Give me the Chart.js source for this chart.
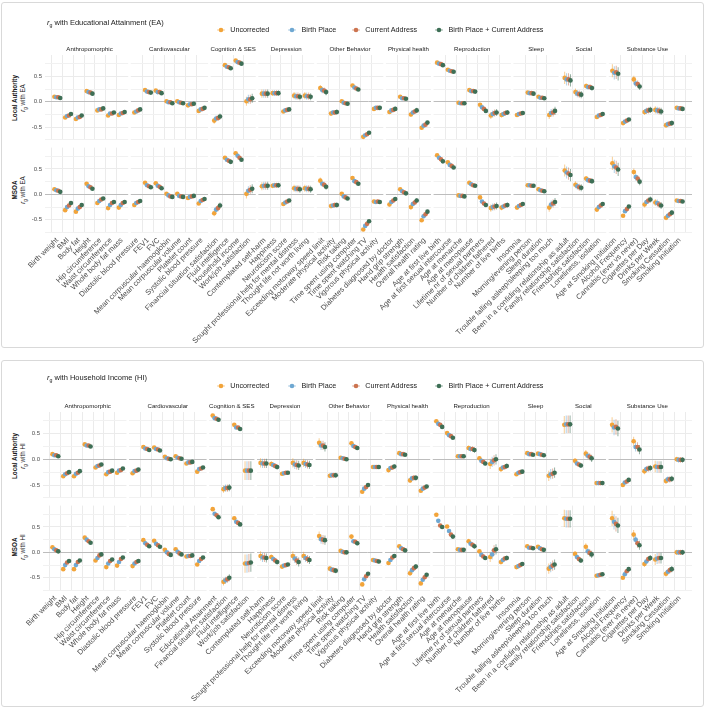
<!DOCTYPE html>
<html>
<head>
<meta charset="utf-8">
<script src="https://cdn.jsdelivr.net/npm/chart.js@4.4.1/dist/chart.umd.min.js"></script>
<style>
  html, body { margin: 0; padding: 0; background: #fff; }
  body { width: 706px; height: 710px; position: relative; overflow: hidden;
         font-family: "Liberation Sans", Arial, sans-serif; color: #1a1a1a; }
  .panel { position: absolute; left: 1px; width: 703px; border: 1px solid #d9d9d9;
           border-radius: 3px; box-sizing: border-box; }
  canvas { position: absolute; left: 0; }
  sub { font-size: 70%; vertical-align: -1.5px; line-height: 0; }
</style>
</head>
<body>
<div class="panel" style="top:2px;height:346px"></div>
<div class="panel" style="top:360px;height:347px"></div>
<script>
// ======================
// 데이터
// ======================
const facetNames = ["Anthropomorphic", "Cardiovascular", "Cognition & SES", "Depression", "Other Behavior",
  "Physical health", "Reproduction", "Sleep", "Social", "Substance Use"];
const facetSizes = [7, 7, 4, 5, 6, 4, 7, 4, 4, 7];

const seriesNames = ["Uncorrected", "Birth Place", "Current Address", "Birth Place + Current Address"];
const seriesColors = ["#F2A43A", "#6FA8D2", "#CC7450", "#3E6F56"];

const eaTraits = [
  "Birth weight", "BMI", "Body fat", "Height", "Hip circumference", "Waist circumference", "Whole body fat mass",
  "Diastolic blood pressure", "FEV1", "FVC", "Mean corpuscular haemoglobin", "Mean corpuscular volume", "Platelet count", "Systolic blood pressure",
  "Financial situation satisfaction", "Fluid intelligence", "Household income", "Work/job satisfaction",
  "Contemplated self-harm", "Happiness", "Neuroticism score", "Sought professional help for mental distress", "Thought life not worth living",
  "Exceeding motorway speed limit", "Moderate physical activity", "Risk taking", "Time spent using computer", "Time spent watching TV", "Vigorous physical activity",
  "Diabetes diagnosed by doctor", "Hand grip strength", "Health satisfaction", "Overall health rating",
  "Age at first live birth", "Age at first sexual intercourse", "Age at menarche", "Age at menopause", "Lifetime nr of sexual partners", "Number of children fathered", "Number of live births",
  "Insomnia", "Morning/evening person", "Sleep duration", "Trouble falling asleep/sleeping too much",
  "Been in a confiding relationship as adult", "Family relationship satisfaction", "Friendships satisfaction", "Loneliness, isolation",
  "Age at Smoking Initiation", "Alcohol Frequency", "Cannabis (ever vs never)", "Cigarettes per Day", "Drinks per Week", "Smoking Cessation", "Smoking Initiation"
];
const hiTraits = [
  "Birth weight", "BMI", "Body fat", "Height", "Hip circumference", "Waist circumference", "Whole body fat mass",
  "Diastolic blood pressure", "FEV1", "FVC", "Mean corpuscular haemoglobin", "Mean corpuscular volume", "Platelet count", "Systolic blood pressure",
  "Educational Attainment", "Financial situation satisfaction", "Fluid intelligence", "Work/job satisfaction",
  "Contemplated self-harm", "Happiness", "Neuroticism score", "Sought professional help for mental distress", "Thought life not worth living",
  "Exceeding motorway speed limit", "Moderate physical activity", "Risk taking", "Time spent using computer", "Time spent watching TV", "Vigorous physical activity",
  "Diabetes diagnosed by doctor", "Hand grip strength", "Health satisfaction", "Overall health rating",
  "Age at first live birth", "Age at first sexual intercourse", "Age at menarche", "Age at menopause", "Lifetime nr of sexual partners", "Number of children fathered", "Number of live births",
  "Insomnia", "Morning/evening person", "Sleep duration", "Trouble falling asleep/sleeping too much",
  "Been in a confiding relationship as adult", "Family relationship satisfaction", "Friendships satisfaction", "Loneliness, isolation",
  "Age at Smoking Initiation", "Alcohol Frequency", "Cannabis (ever vs never)", "Cigarettes per Day", "Drinks per Week", "Smoking Cessation", "Smoking Initiation"
];

const yTickValues = [-0.75, -0.5, -0.25, 0, 0.25, 0.5, 0.75];
const yTickLabels = ["", "-0.5", "", "0.0", "", "0.5", ""];

// ---- r_g with EA (Uncorrected is the same for both rows)
const eaUncorrected = [
  0.10, -0.31, -0.34, 0.21, -0.17, -0.27, -0.26,
  -0.21, 0.23, 0.22, 0.01, 0.01, -0.07, -0.18,
  -0.37, 0.72, 0.81, 0.01,
  0.16, 0.17, -0.19, 0.12, 0.12,
  0.27, -0.23, 0.01, 0.32, -0.69, -0.14,
  -0.20, 0.10, -0.25, -0.51,
  0.77, 0.63, -0.02, 0.23, -0.06, -0.27, -0.26,
  -0.26, 0.18, 0.10, -0.26,
  0.47, 0.19, 0.31, -0.30,
  0.61, -0.42, 0.44, -0.20, -0.16, -0.46, -0.12
];
const eaLaBirth = [
  0.09, -0.28, -0.31, 0.19, -0.15, -0.23, -0.23,
  -0.19, 0.20, 0.19, -0.01, -0.01, -0.05, -0.15,
  -0.33, 0.69, 0.78, 0.05,
  0.16, 0.17, -0.17, 0.11, 0.11,
  0.23, -0.21, -0.02, 0.28, -0.66, -0.12,
  -0.17, 0.07, -0.21, -0.47,
  0.75, 0.61, -0.03, 0.21, -0.11, -0.24, -0.24,
  -0.24, 0.17, 0.08, -0.22,
  0.44, 0.16, 0.29, -0.27,
  0.57, -0.39, 0.36, -0.18, -0.17, -0.44, -0.13
];
const eaLaCurrent = [
  0.09, -0.27, -0.30, 0.18, -0.15, -0.23, -0.22,
  -0.17, 0.19, 0.19, -0.01, -0.02, -0.05, -0.14,
  -0.32, 0.68, 0.77, 0.05,
  0.16, 0.17, -0.16, 0.11, 0.11,
  0.22, -0.21, -0.03, 0.26, -0.64, -0.12,
  -0.16, 0.07, -0.19, -0.45,
  0.74, 0.60, -0.03, 0.21, -0.14, -0.22, -0.22,
  -0.23, 0.17, 0.08, -0.21,
  0.44, 0.15, 0.29, -0.26,
  0.58, -0.37, 0.35, -0.17, -0.18, -0.43, -0.13
];
const eaLaBoth = [
  0.075, -0.24, -0.27, 0.16, -0.13, -0.21, -0.20,
  -0.15, 0.18, 0.17, -0.03, -0.03, -0.04, -0.12,
  -0.29, 0.66, 0.75, 0.07,
  0.16, 0.17, -0.15, 0.10, 0.10,
  0.19, -0.20, -0.04, 0.24, -0.61, -0.12,
  -0.14, 0.06, -0.17, -0.41,
  0.72, 0.59, -0.03, 0.20, -0.18, -0.21, -0.21,
  -0.22, 0.16, 0.07, -0.18,
  0.42, 0.14, 0.27, -0.24,
  0.55, -0.35, 0.30, -0.16, -0.19, -0.42, -0.14
];
const eaMsoaBirth = [
  0.08, -0.25, -0.28, 0.16, -0.13, -0.21, -0.21,
  -0.17, 0.18, 0.17, -0.02, -0.03, -0.05, -0.13,
  -0.30, 0.68, 0.76, 0.07,
  0.17, 0.18, -0.16, 0.11, 0.11,
  0.21, -0.22, -0.04, 0.26, -0.62, -0.15,
  -0.15, 0.06, -0.19, -0.43,
  0.72, 0.58, -0.03, 0.20, -0.14, -0.25, -0.24,
  -0.23, 0.18, 0.08, -0.20,
  0.43, 0.16, 0.28, -0.25,
  0.55, -0.33, 0.34, -0.15, -0.17, -0.42, -0.13
];
const eaMsoaCurrent = [
  0.07, -0.22, -0.25, 0.14, -0.10, -0.17, -0.17,
  -0.15, 0.16, 0.15, -0.04, -0.04, -0.04, -0.11,
  -0.27, 0.66, 0.72, 0.09,
  0.17, 0.18, -0.14, 0.11, 0.11,
  0.19, -0.21, -0.06, 0.24, -0.58, -0.14,
  -0.12, 0.04, -0.16, -0.39,
  0.69, 0.56, -0.03, 0.18, -0.18, -0.24, -0.22,
  -0.21, 0.17, 0.07, -0.18,
  0.41, 0.14, 0.27, -0.22,
  0.53, -0.29, 0.31, -0.12, -0.20, -0.39, -0.13
];
const eaMsoaBoth = [
  0.05, -0.17, -0.21, 0.11, -0.08, -0.15, -0.15,
  -0.13, 0.14, 0.12, -0.05, -0.05, -0.03, -0.09,
  -0.22, 0.64, 0.68, 0.11,
  0.17, 0.18, -0.12, 0.10, 0.10,
  0.15, -0.21, -0.08, 0.21, -0.53, -0.15,
  -0.09, 0.02, -0.12, -0.34,
  0.65, 0.53, -0.04, 0.17, -0.21, -0.23, -0.21,
  -0.19, 0.17, 0.06, -0.15,
  0.38, 0.13, 0.26, -0.19,
  0.49, -0.24, 0.25, -0.10, -0.22, -0.36, -0.14
];
// 95% CI half width
const eaCI = [
  0.03, 0.02, 0.02, 0.02, 0.02, 0.02, 0.02,
  0.02, 0.02, 0.02, 0.02, 0.02, 0.02, 0.02,
  0.06, 0.02, 0.02, 0.09,
  0.08, 0.05, 0.03, 0.07, 0.07,
  0.06, 0.05, 0.03, 0.03, 0.02, 0.04,
  0.04, 0.02, 0.05, 0.03,
  0.02, 0.02, 0.02, 0.03, 0.03, 0.07, 0.05,
  0.03, 0.02, 0.02, 0.08,
  0.12, 0.07, 0.05, 0.04,
  0.13, 0.03, 0.07, 0.06, 0.07, 0.05, 0.03
];

// ---- r_g with HI
const hiUncorrected = [
  0.10, -0.33, -0.33, 0.29, -0.16, -0.29, -0.26,
  -0.27, 0.24, 0.23, 0.05, 0.06, -0.08, -0.24,
  0.85, -0.58, 0.67, -0.22,
  -0.07, -0.09, -0.28, -0.07, -0.07,
  0.32, -0.32, 0.03, 0.31, -0.63, -0.15,
  -0.21, 0.12, -0.41, -0.61,
  0.74, 0.51, 0.06, 0.22, 0.02, -0.09, -0.19,
  -0.29, 0.12, 0.11, -0.32,
  0.67, -0.03, 0.11, -0.46,
  0.67, -0.50, 0.35, -0.23, -0.14, -0.42, 0.00
];
const hiLaBirth = [
  0.08, -0.29, -0.28, 0.27, -0.13, -0.25, -0.22,
  -0.23, 0.21, 0.20, 0.02, 0.03, -0.06, -0.19,
  0.80, -0.56, 0.62, -0.22,
  -0.08, -0.11, -0.27, -0.10, -0.09,
  0.27, -0.31, 0.02, 0.26, -0.57, -0.15,
  -0.17, 0.10, -0.37, -0.57,
  0.69, 0.47, 0.06, 0.20, -0.03, -0.05, -0.16,
  -0.26, 0.10, 0.10, -0.29,
  0.68, -0.08, 0.07, -0.46,
  0.62, -0.45, 0.24, -0.19, -0.15, -0.39, -0.01
];
const hiLaCurrent = [
  0.08, -0.27, -0.26, 0.27, -0.12, -0.24, -0.21,
  -0.22, 0.20, 0.19, 0.01, 0.02, -0.06, -0.18,
  0.79, -0.56, 0.62, -0.22,
  -0.08, -0.13, -0.26, -0.11, -0.10,
  0.27, -0.31, 0.01, 0.24, -0.54, -0.15,
  -0.16, 0.10, -0.36, -0.55,
  0.67, 0.45, 0.06, 0.20, -0.05, -0.02, -0.15,
  -0.25, 0.10, 0.09, -0.28,
  0.68, -0.10, 0.05, -0.46,
  0.63, -0.43, 0.24, -0.18, -0.15, -0.39, -0.01
];
const hiLaBoth = [
  0.06, -0.25, -0.23, 0.25, -0.10, -0.22, -0.18,
  -0.20, 0.18, 0.17, 0.00, 0.01, -0.05, -0.16,
  0.77, -0.55, 0.59, -0.22,
  -0.08, -0.15, -0.26, -0.12, -0.11,
  0.24, -0.31, 0.00, 0.22, -0.50, -0.15,
  -0.14, 0.09, -0.36, -0.53,
  0.63, 0.42, 0.06, 0.18, -0.08, 0.00, -0.13,
  -0.24, 0.09, 0.08, -0.26,
  0.68, -0.12, 0.02, -0.46,
  0.60, -0.40, 0.19, -0.17, -0.15, -0.38, -0.01
];
const hiMsoaBirth = [
  0.06, -0.25, -0.25, 0.25, -0.11, -0.22, -0.19,
  -0.22, 0.18, 0.17, 0.00, 0.01, -0.07, -0.17,
  0.76, -0.55, 0.60, -0.22,
  -0.10, -0.13, -0.26, -0.12, -0.11,
  0.26, -0.34, 0.01, 0.22, -0.53, -0.16,
  -0.15, 0.08, -0.35, -0.54,
  0.62, 0.42, 0.05, 0.17, -0.05, -0.04, -0.15,
  -0.27, 0.09, 0.08, -0.29,
  0.66, -0.09, 0.02, -0.45,
  0.60, -0.43, 0.25, -0.18, -0.12, -0.38, 0.00
];
const hiMsoaCurrent = [
  0.04, -0.20, -0.19, 0.22, -0.06, -0.17, -0.13,
  -0.19, 0.15, 0.14, -0.03, -0.02, -0.07, -0.13,
  0.73, -0.53, 0.58, -0.21,
  -0.10, -0.16, -0.25, -0.16, -0.13,
  0.25, -0.35, 0.00, 0.21, -0.47, -0.17,
  -0.10, 0.06, -0.31, -0.49,
  0.53, 0.35, 0.05, 0.15, -0.08, 0.04, -0.12,
  -0.25, 0.09, 0.06, -0.26,
  0.66, -0.13, -0.01, -0.44,
  0.56, -0.37, 0.18, -0.13, -0.11, -0.35, 0.00
];
const hiMsoaBoth = [
  0.02, -0.17, -0.16, 0.19, -0.04, -0.14, -0.10,
  -0.17, 0.12, 0.11, -0.05, -0.04, -0.06, -0.10,
  0.69, -0.50, 0.55, -0.20,
  -0.11, -0.19, -0.24, -0.19, -0.15,
  0.24, -0.36, 0.00, 0.18, -0.42, -0.18,
  -0.07, 0.04, -0.28, -0.44,
  0.50, 0.31, 0.05, 0.12, -0.11, 0.06, -0.11,
  -0.23, 0.08, 0.05, -0.24,
  0.66, -0.16, -0.04, -0.43,
  0.53, -0.33, 0.14, -0.11, -0.11, -0.33, 0.00
];
const hiCI = [
  0.03, 0.02, 0.02, 0.02, 0.02, 0.02, 0.02,
  0.03, 0.03, 0.03, 0.02, 0.02, 0.02, 0.02,
  0.02, 0.07, 0.02, 0.18,
  0.09, 0.05, 0.03, 0.09, 0.08,
  0.09, 0.05, 0.03, 0.04, 0.03, 0.04,
  0.04, 0.02, 0.05, 0.03,
  0.03, 0.03, 0.02, 0.05, 0.04, 0.10, 0.05,
  0.03, 0.02, 0.03, 0.10,
  0.17, 0.05, 0.07, 0.03,
  0.15, 0.03, 0.09, 0.06, 0.11, 0.06, 0.05
];

// ======================
// 레이아웃 (facet 위치)
// ======================
const FACET_STEP = 0.44;       // 패널 사이 추가 간격 (x 단위)
const EXPAND = 0.6;            // discrete scale expand
const DODGE = [-0.27, -0.09, 0.09, 0.27];
const Y_MIN = -0.76, Y_MAX = 0.92;

const traitX = [];
const facetRange = [];
{
  let x = 0;
  facetSizes.forEach(n => {
    const start = x;
    for (let i = 0; i < n; i++) { traitX.push(x); x += 1; }
    facetRange.push([start - EXPAND, x - 1 + EXPAND]);
    x += FACET_STEP;
  });
}
const X_MIN = traitX[0] - EXPAND;
const X_MAX = traitX[traitX.length - 1] + EXPAND;

function rgba(hex, a) {
  const n = parseInt(hex.slice(1), 16);
  return `rgba(${(n >> 16) & 255},${(n >> 8) & 255},${n & 255},${a})`;
}

// facet 사이 흰 틈 + strip 라벨
const facetPlugin = {
  id: "facets",
  beforeDatasetsDraw(chart, args, opts) {
    const { ctx, chartArea: a, scales: { x } } = chart;
    ctx.save();
    ctx.fillStyle = "#fff";
    for (let k = 0; k < facetRange.length - 1; k++) {
      const l = x.getPixelForValue(facetRange[k][1]);
      const r = x.getPixelForValue(facetRange[k + 1][0]);
      ctx.fillRect(l, a.top - 1, r - l, a.bottom - a.top + 2);
    }
    if (opts.strips) {
      ctx.fillStyle = "#1a1a1a";
      ctx.font = "6.1px 'Liberation Sans', Arial, sans-serif";
      ctx.textAlign = "center";
      ctx.textBaseline = "middle";
      facetNames.forEach((name, k) => {
        const cx = (x.getPixelForValue(facetRange[k][0]) + x.getPixelForValue(facetRange[k][1])) / 2;
        ctx.fillText(name, cx, a.top - 6);
      });
    }
    ctx.restore();
  }
};

function buildDatasets(rows, ci) {
  const ds = [];
  rows.forEach((vals, s) => {
    ds.push({
      type: "bar",
      data: vals.map((v, i) => ({ x: traitX[i] + DODGE[s], y: [v - ci[i], v + ci[i]] })),
      backgroundColor: rgba(seriesColors[s], 0.55),
      borderWidth: 0,
      grouped: false,
      maxBarThickness: 1,
      order: 20 - s
    });
  });
  rows.forEach((vals, s) => {
    ds.push({
      type: "scatter",
      label: seriesNames[s],
      data: vals.map((v, i) => ({ x: traitX[i] + DODGE[s], y: v })),
      backgroundColor: seriesColors[s],
      borderWidth: 0,
      pointRadius: 2.3,
      order: 10 - s
    });
  });
  return ds;
}

function rowChart(cfg) {
  const cv = document.createElement("canvas");
  cv.width = 706; cv.height = cfg.height;
  cv.style.top = cfg.top + "px";
  cv.style.width = "706px"; cv.style.height = cfg.height + "px";
  document.body.appendChild(cv);

  new Chart(cv, {
    type: "scatter",
    data: { datasets: buildDatasets(cfg.rows, cfg.ci) },
    options: {
      responsive: false,
      animation: false,
      devicePixelRatio: 1,
      events: [],
      layout: { padding: { left: 0, right: 14, top: cfg.padTop, bottom: cfg.padBottom } },
      plugins: { legend: { display: false }, tooltip: { enabled: false }, facets: { strips: cfg.strips } },
      scales: {
        x: {
          type: "linear", min: X_MIN, max: X_MAX,
          border: { display: false },
          grid: { color: "#ebebeb", lineWidth: 1, drawTicks: false },
          afterBuildTicks: s => { s.ticks = traitX.map(v => ({ value: v })); },
          ticks: {
            display: cfg.xLabels, autoSkip: false, minRotation: 45, maxRotation: 45,
            padding: 3, color: "#4d4d4d", font: { size: 7.5 },
            callback: (v, i) => cfg.traits[i]
          },
          afterFit: s => { s.height = cfg.xHeight; }
        },
        y: {
          type: "linear", min: Y_MIN, max: Y_MAX,
          border: { display: false },
          grid: {
            drawTicks: false, lineWidth: 1,
            color: c => c.tick && c.tick.value === 0 ? "#bdbdbd"
              : (c.tick && Math.abs(c.tick.value) === 0.5 ? "#ebebeb" : "#f1f1f1")
          },
          afterBuildTicks: s => { s.ticks = yTickValues.map(v => ({ value: v })); },
          ticks: {
            padding: 3, color: "#4d4d4d", font: { size: 6 },
            callback: (v, i) => yTickLabels[i]
          },
          afterFit: s => { s.width = cfg.yWidth; }
        }
      }
    },
    plugins: [facetPlugin]
  });
}

// ======================
// 텍스트 (제목, 범례, y축 제목)
// ======================
function addText(html, css) {
  const d = document.createElement("div");
  d.innerHTML = html;
  // translateZ: 회색 안티앨리어싱 (색 번짐 방지)
  Object.assign(d.style, { position: "absolute", whiteSpace: "nowrap", transform: "translateZ(0)" }, css);
  document.body.appendChild(d);
  return d;
}

function panelText(p) {
  addText(`<i>r</i><sub>g</sub> with ${p.name}`, {
    left: "47px", top: (p.titleY - 5) + "px", fontSize: "7.5px", lineHeight: "10px", color: "#1a1a1a"
  });
  const markerX = [220.7, 292, 355.7, 439];
  seriesNames.forEach((name, s) => {
    const c = seriesColors[s];
    addText(`<svg width="10" height="10"><line x1="1" y1="5" x2="9" y2="5" stroke="${rgba(c, 0.55)}" stroke-width="1"/><circle cx="5" cy="5" r="2.3" fill="${c}"/></svg>`,
      { left: (markerX[s] - 5) + "px", top: (p.legendY - 5) + "px", lineHeight: "0" });
    addText(name, { left: (markerX[s] + 9.5) + "px", top: (p.legendY - 5) + "px",
      fontSize: "7.2px", lineHeight: "10px", color: "#1a1a1a" });
  });
  [["Local Authority", p.rowCenters[0]], ["MSOA", p.rowCenters[1]]].forEach(([lvl, cy]) => {
    addText(lvl, { left: (15 - 40) + "px", top: (cy - 5) + "px", width: "80px", textAlign: "center",
      fontSize: "6.3px", fontWeight: "bold", lineHeight: "10px", transform: "rotate(-90deg)" });
    addText(`<i>r</i><sub>g</sub> with ${p.short}`, { left: (23 - 40) + "px", top: (cy - 5) + "px", width: "80px",
      textAlign: "center", fontSize: "6.3px", lineHeight: "10px", transform: "rotate(-90deg)" });
  });
}

// ======================
// 그리기
// ======================
panelText({ name: "Educational Attainment (EA)", short: "EA", titleY: 22.7, legendY: 30, rowCenters: [98, 189.5] });
panelText({ name: "Household Income (HI)", short: "HI", titleY: 378, legendY: 386, rowCenters: [455.5, 547] });

rowChart({ top: 41, height: 106, padTop: 14, padBottom: 6, xHeight: 0, xLabels: false, strips: true, yWidth: 45,
  traits: eaTraits, ci: eaCI, rows: [eaUncorrected, eaLaBirth, eaLaCurrent, eaLaBoth] });
rowChart({ top: 141, height: 206, padTop: 5, padBottom: 0, xHeight: 114, xLabels: true, strips: false, yWidth: 45,
  traits: eaTraits, ci: eaCI, rows: [eaUncorrected, eaMsoaBirth, eaMsoaCurrent, eaMsoaBoth] });
rowChart({ top: 398, height: 107, padTop: 14, padBottom: 6, xHeight: 0, xLabels: false, strips: true, yWidth: 43,
  traits: hiTraits, ci: hiCI, rows: [hiUncorrected, hiLaBirth, hiLaCurrent, hiLaBoth] });
rowChart({ top: 499, height: 207, padTop: 4, padBottom: 0, xHeight: 115, xLabels: true, strips: false, yWidth: 43,
  traits: hiTraits, ci: hiCI, rows: [hiUncorrected, hiMsoaBirth, hiMsoaCurrent, hiMsoaBoth] });
</script>
</body>
</html>
